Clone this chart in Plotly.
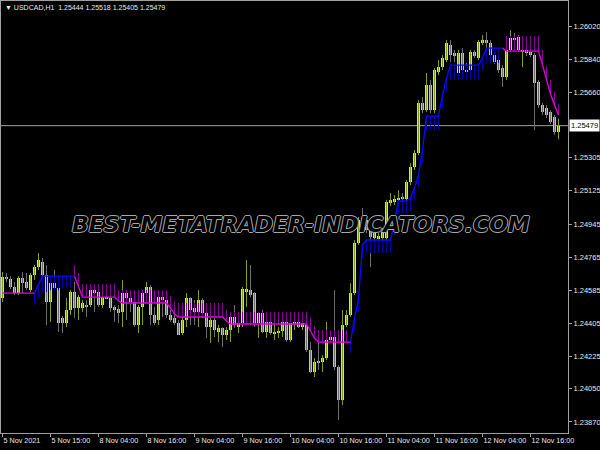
import plotly.graph_objects as go

# ---------------- data ----------------
open_ = [1.24543,1.24657,1.24646,1.24603,1.24570,1.24651,1.24630,1.24586,1.24668,1.24711,
         1.24738,1.24668,1.24521,1.24624,1.24597,1.24434,1.24407,1.24478,1.24575,1.24489,
         1.24489,1.24505,1.24505,1.24586,1.24575,1.24505,1.24548,1.24543,1.24494,1.24483,
         1.24467,1.24570,1.24543,1.24521,1.24396,1.24494,1.24570,1.24603,1.24451,1.24423,
         1.24548,1.24532,1.24451,1.24434,1.24407,1.24353,1.24423,1.24543,1.24489,1.24467,
         1.24532,1.24461,1.24385,1.24423,1.24358,1.24380,1.24342,1.24369,1.24440,1.24385,
         1.24407,1.24575,1.24586,1.24570,1.24407,1.24461,1.24358,1.24413,1.24353,1.24353,
         1.24364,1.24413,1.24315,1.24407,1.24413,1.24385,1.24396,1.24261,1.24141,1.24201,
         1.24195,1.24217,1.24315,1.24331,1.24168,1.23989,1.24396,1.24451,1.24570,1.24842,
         1.24977,1.24966,1.24939,1.24869,1.24863,1.24869,1.24869,1.25059,1.25064,1.25075,
         1.25091,1.25080,1.25173,1.25254,1.25330,1.25602,1.25564,1.25699,1.25564,1.25770,
         1.25797,1.25835,1.25917,1.25873,1.25765,1.25873,1.25781,1.25781,1.25879,1.25846,
         1.25928,1.25944,1.25928,1.25862,1.25835,1.25792,1.25743,1.25890,1.25955,1.25960,
         1.25884,1.25890,1.25879,1.25862,1.25716,1.25591,1.25575,1.25553,1.25526,1.25444]
high_ = [1.24684,1.24679,1.24662,1.24630,1.24662,1.24684,1.24679,1.24679,1.24722,1.24787,
         1.24760,1.24722,1.24657,1.24695,1.24641,1.24445,1.24543,1.24586,1.24630,1.24559,
         1.24532,1.24532,1.24603,1.24597,1.24603,1.24570,1.24559,1.24559,1.24505,1.24505,
         1.24641,1.24586,1.24543,1.24532,1.24505,1.24575,1.24630,1.24613,1.24494,1.24559,
         1.24559,1.24543,1.24478,1.24461,1.24423,1.24440,1.24570,1.24548,1.24532,1.24586,
         1.24543,1.24461,1.24434,1.24434,1.24396,1.24385,1.24385,1.24461,1.24505,1.24461,
         1.24603,1.24749,1.24722,1.24575,1.24467,1.24478,1.24423,1.24423,1.24407,1.24385,
         1.24423,1.24423,1.24413,1.24423,1.24413,1.24423,1.24407,1.24304,1.24217,1.24304,
         1.24233,1.24413,1.24337,1.24586,1.24179,1.24478,1.24478,1.24624,1.24858,1.24983,
         1.25032,1.24994,1.24956,1.24912,1.24896,1.24923,1.25075,1.25113,1.25102,1.25129,
         1.25113,1.25184,1.25276,1.25347,1.25618,1.25634,1.25765,1.25727,1.25792,1.25835,
         1.25862,1.25944,1.25944,1.25890,1.25890,1.25900,1.25819,1.25890,1.25890,1.25944,
         1.25971,1.25987,1.25944,1.25890,1.25846,1.25808,1.25917,1.25998,1.25982,1.25971,
         1.25900,1.25900,1.25890,1.25873,1.25727,1.25602,1.25591,1.25564,1.25537,1.25518]
low_ = [1.24521,1.24630,1.24592,1.24559,1.24559,1.24570,1.24586,1.24575,1.24641,1.24695,
        1.24586,1.24396,1.24413,1.24586,1.24358,1.24353,1.24385,1.24451,1.24434,1.24423,
        1.24467,1.24440,1.24494,1.24467,1.24494,1.24489,1.24537,1.24467,1.24413,1.24407,
        1.24385,1.24423,1.24467,1.24385,1.24353,1.24396,1.24559,1.24396,1.24396,1.24396,
        1.24440,1.24434,1.24413,1.24396,1.24342,1.24342,1.24385,1.24396,1.24396,1.24385,
        1.24434,1.24326,1.24299,1.24331,1.24304,1.24277,1.24315,1.24304,1.24380,1.24353,
        1.24385,1.24494,1.24548,1.24385,1.24326,1.24353,1.24326,1.24342,1.24315,1.24326,
        1.24331,1.24304,1.24304,1.24369,1.24380,1.24369,1.24250,1.24136,1.24114,1.24152,
        1.24141,1.24206,1.24304,1.24152,1.23880,1.23962,1.24385,1.24440,1.24559,1.24831,
        1.24928,1.24896,1.24711,1.24847,1.24831,1.24858,1.24858,1.25042,1.25048,1.25059,
        1.25048,1.25064,1.25156,1.25238,1.25319,1.25547,1.25553,1.25547,1.25547,1.25754,
        1.25781,1.25824,1.25824,1.25824,1.25754,1.25765,1.25737,1.25765,1.25846,1.25835,
        1.25917,1.25879,1.25852,1.25813,1.25765,1.25689,1.25727,1.25879,1.25928,1.25879,
        1.25797,1.25857,1.25852,1.25455,1.25575,1.25537,1.25520,1.25488,1.25428,1.25405]
close_ = [1.24657,1.24646,1.24603,1.24570,1.24651,1.24624,1.24597,1.24668,1.24711,1.24749,
          1.24668,1.24521,1.24624,1.24597,1.24407,1.24407,1.24478,1.24575,1.24489,1.24548,
          1.24516,1.24494,1.24586,1.24570,1.24505,1.24548,1.24537,1.24489,1.24478,1.24461,
          1.24570,1.24543,1.24521,1.24396,1.24494,1.24570,1.24603,1.24451,1.24407,1.24548,
          1.24532,1.24451,1.24423,1.24407,1.24342,1.24423,1.24543,1.24478,1.24467,1.24532,
          1.24461,1.24385,1.24423,1.24369,1.24380,1.24342,1.24369,1.24440,1.24396,1.24407,
          1.24592,1.24592,1.24559,1.24407,1.24461,1.24358,1.24413,1.24353,1.24358,1.24364,
          1.24413,1.24315,1.24407,1.24413,1.24385,1.24407,1.24261,1.24141,1.24195,1.24195,
          1.24217,1.24315,1.24331,1.24168,1.23989,1.24396,1.24451,1.24570,1.24842,1.24966,
          1.24939,1.24912,1.24874,1.24896,1.24880,1.24901,1.25064,1.25075,1.25080,1.25086,
          1.25080,1.25173,1.25254,1.25330,1.25602,1.25564,1.25699,1.25564,1.25781,1.25797,
          1.25846,1.25928,1.25862,1.25857,1.25873,1.25781,1.25770,1.25879,1.25857,1.25933,
          1.25944,1.25928,1.25862,1.25824,1.25781,1.25743,1.25890,1.25955,1.25944,1.25890,
          1.25890,1.25873,1.25862,1.25710,1.25591,1.25553,1.25537,1.25499,1.25444,1.25479]

N = 140
bars = list(range(N))

# trend indicator: down line (magenta, stems up) / up line (blue, stems down)
dn_line = ([1.24570]*9 + [None]*9 + [1.24662, 1.24603] + [1.24548]*9 + [1.24527]
           + [1.24516]*12 + [1.24489, 1.24456] + [1.24440]*12 + [1.24418] + [1.24402]*20
           + [1.24364, 1.24326] + [1.24304]*9 + [None]*37 + [1.25900] + [1.25884]*9
           + [1.25808, 1.25727, 1.25651, 1.25591, 1.25537])
dn_stem = ([None]*18 + [1.24722, 1.24679] + [1.24619]*9 + [1.24586] + [1.24586]*12
           + [1.24554, 1.24521] + [1.24516]*12 + [1.24478] + [1.24467]*20
           + [1.24434, 1.24391] + [1.24369]*8 + [None]*39 + [1.25966]*9
           + [1.25890, 1.25803, 1.25727, 1.25661, 1.25596])
up_line = ([None]*8 + [1.24570, 1.24619] + [1.24662]*9 + [None]*68
           + [1.24304, 1.24434, 1.24532, 1.24831] + [1.24858]*7 + [1.24956] + [1.25070]*3
           + [1.25086, 1.25140, 1.25211, 1.25346] + [1.25531]*4 + [1.25645, 1.25737]
           + [1.25808]*8 + [1.25846] + [1.25900]*5 + [None]*14)
up_stem = ([None]*8 + [1.24505, 1.24543, 1.24570, 1.24575] + [1.24586]*3 + [1.24597]*3
           + [None]*69 + [1.24244, 1.24369, 1.24467, 1.24760] + [1.24787]*7 + [1.24885]
           + [1.25004]*3 + [1.25015, 1.25070, 1.25140, 1.25276] + [1.25455]*4
           + [1.25575, 1.25661] + [1.25727]*8 + [1.25781] + [1.25819]*4 + [None]*15)

tick_bars = [0, 12, 24, 36, 48, 60, 72, 84, 96, 108, 120, 132]
tick_labels = ["5 Nov 2021", "5 Nov 15:00", "8 Nov 04:00", "8 Nov 16:00", "9 Nov 04:00",
               "9 Nov 16:00", "10 Nov 04:00", "10 Nov 16:00", "11 Nov 04:00", "11 Nov 16:00",
               "12 Nov 04:00", "12 Nov 16:00"]
price_ticks = [1.26020, 1.25840, 1.25660, 1.25305, 1.25125, 1.24945, 1.24765,
               1.24585, 1.24405, 1.24225, 1.24050, 1.23870]
last_price = 1.25479
header = "USDCAD,H1\u00a0\u00a01.25444 1.25518 1.25405 1.25479"
watermark = "BEST-METATRADER-INDICATORS.COM"

# ---------------- styling ----------------
BULL_BODY = "#ccff00"
BULL_WICK = "#7f9c12"
BEAR_BODY = "#c0c0c0"
BEAR_WICK = "#6e6e6e"
FONT = "Liberation Sans, Arial"
TXT = "#e8e8e8"

fig = go.Figure()

# wicks (high-low)
fig.add_trace(go.Ohlc(x=bars, open=open_, high=high_, low=low_, close=close_,
                      tickwidth=0,
                      increasing=dict(line=dict(color=BULL_WICK, width=1)),
                      decreasing=dict(line=dict(color=BEAR_WICK, width=1)),
                      hoverinfo="skip"))
# bodies (open-close)
body_base = [min(o, c) for o, c in zip(open_, close_)]
body_len = [abs(c - o) for o, c in zip(open_, close_)]
body_col = [BULL_BODY if c > o else BEAR_BODY for o, c in zip(open_, close_)]
fig.add_trace(go.Bar(x=bars, y=body_len, base=body_base, width=0.75,
                     marker=dict(color=body_col, line=dict(width=0)), hoverinfo="skip"))

def stems(line, stem):
    xs, ys = [], []
    for i in range(N):
        if line[i] is not None and stem[i] is not None:
            xs += [i, i, None]
            ys += [line[i], stem[i], None]
    return xs, ys

sx, sy = stems(dn_line, dn_stem)
fig.add_trace(go.Scatter(x=sx, y=sy, mode="lines", line=dict(color="#8a009a", width=1),
                         hoverinfo="skip"))
sx, sy = stems(up_line, up_stem)
fig.add_trace(go.Scatter(x=sx, y=sy, mode="lines", line=dict(color="#0000b0", width=1),
                         hoverinfo="skip"))
fig.add_trace(go.Scatter(x=bars, y=dn_line, mode="lines", line=dict(color="#e000e0", width=1.3),
                         connectgaps=False, hoverinfo="skip"))
fig.add_trace(go.Scatter(x=bars, y=up_line, mode="lines", line=dict(color="#0a0aff", width=1.3),
                         connectgaps=False, hoverinfo="skip"))

# current price line
fig.add_shape(type="line", xref="paper", x0=0, x1=1, yref="y", y0=last_price, y1=last_price,
              line=dict(color="#a0a0a0", width=1), layer="below")

fig.add_annotation(xref="paper", x=1, xanchor="left", xshift=1, yref="y", y=last_price,
                   text=f"{last_price:.5f}", showarrow=False, bgcolor="#ffffff",
                   font=dict(family=FONT, size=7.5, color="#000000"), borderpad=1)

fig.add_annotation(xref="paper", yref="paper", x=0, y=1, xanchor="left", yanchor="top",
                   xshift=2, yshift=-1, text="\u25bc\u00a0" + header, showarrow=False,
                   font=dict(family=FONT, size=7, color=TXT))

fig.add_annotation(xref="paper", yref="paper", x=(301 - 1) / 567, y=1 - (224 - 1) / 432,
                   text=watermark, showarrow=False,
                   font=dict(family="DejaVu Sans", size=22, color="#000000", style="italic",
                             weight="bold",
                             shadow="1px 0 0 #a8a8a8, -1px 0 0 #a8a8a8, 0 1px 0 #a8a8a8, 0 -1px 0 #a8a8a8"))

fig.update_layout(
    width=600, height=450,
    paper_bgcolor="#000000", plot_bgcolor="#000000",
    margin=dict(l=1, r=32, t=1, b=17, autoexpand=False),
    showlegend=False,
    bargap=0,
    xaxis=dict(range=[-0.375, 141.375], rangeslider=dict(visible=False),
               tickmode="array", tickvals=tick_bars, ticktext=tick_labels,
               tickangle=0, automargin=False,
               ticks="outside", ticklen=3, tickcolor="#a0a0a0",
               ticklabelposition="outside right",
               tickfont=dict(family=FONT, size=7.2, color=TXT),
               showgrid=False, zeroline=False,
               showline=True, linecolor="#a0a0a0", linewidth=1, mirror=True),
    yaxis=dict(range=[1.23810, 1.26156], side="right", automargin=False,
               tickmode="array", tickvals=price_ticks,
               ticktext=[f"{v:.5f}" for v in price_ticks],
               ticks="outside", ticklen=3, tickcolor="#a0a0a0",
               ticklabelstandoff=0,
               tickfont=dict(family=FONT, size=7.5, color=TXT),
               showgrid=False, zeroline=False,
               showline=True, linecolor="#a0a0a0", linewidth=1, mirror=True),
)

fig.write_html("out.html", config={"displayModeBar": False},
               post_script="document.body.style.margin='0px';document.body.style.background='#000';")
